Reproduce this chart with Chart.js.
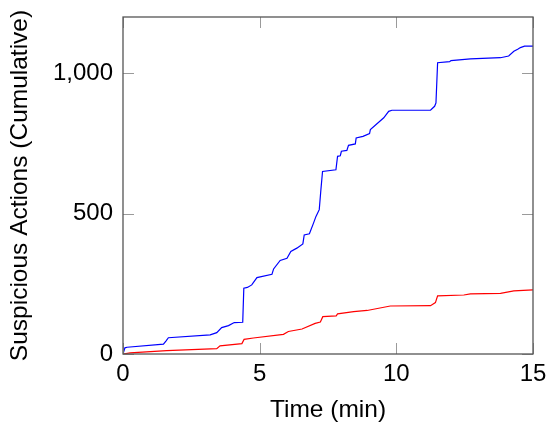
<!DOCTYPE html>
<html>
<head>
<meta charset="utf-8">
<script src="https://cdn.jsdelivr.net/npm/chart.js@4.4.0/dist/chart.umd.min.js"></script>
<style>
  html, body { margin: 0; padding: 0; background: #fff; }
  #wrap { width: 548px; height: 425px; }
</style>
</head>
<body>
<div id="wrap"><canvas id="chart" width="548" height="425"></canvas></div>
<script>
// --- Data ---
const blueTimes = [0, 0.07, 0.15, 1.48, 1.57, 1.66, 3.19, 3.43, 3.61, 3.86, 4.07, 4.38, 4.42, 4.55, 4.71, 4.90,
  5.45, 5.51, 5.75, 6.00, 6.14, 6.36, 6.58, 6.63, 6.82, 6.97, 7.06, 7.18, 7.24, 7.30, 7.79, 7.85, 7.95, 7.99,
  8.19, 8.25, 8.50, 8.53, 8.78, 9.02, 9.05, 9.54, 9.72, 9.84, 11.25, 11.40, 11.45, 11.51, 11.95, 12.00, 12.71,
  13.81, 14.11, 14.30, 14.44, 14.54, 14.69, 15.0];
const blueCounts = [0, 22, 24, 35, 46, 58, 68, 76, 94, 101, 112, 113, 234, 237, 246, 272,
  284, 303, 333, 341, 365, 377, 392, 424, 428, 466, 490, 514, 585, 650, 656, 704, 706, 722,
  725, 743, 748, 769, 775, 785, 799, 841, 864, 868, 868, 882, 894, 1037, 1041, 1045, 1051,
  1055, 1061, 1078, 1085, 1091, 1096, 1096];

const redTimes = [0, 0.26, 1.6, 3.43, 3.55, 4.35, 4.43, 4.77, 5.87, 6.05, 6.55, 7.03, 7.22, 7.31, 7.80, 7.85,
  8.44, 8.93, 9.78, 11.25, 11.43, 11.51, 12.47, 12.71, 13.81, 14.30, 15.0];
const redCounts = [0, 4, 12, 19, 29, 37, 52, 57, 70, 80, 89, 109, 114, 133, 136, 143,
  151, 155, 171, 172, 183, 207, 210, 214, 216, 225, 228];

const xTicks = [0, 5, 10, 15];
const yTicks = [0, 500, 1000];

const FONT = 'Liberation Sans';

function toPoints(xs, ys) {
  return xs.map((t, i) => ({ x: t, y: ys[i] }));
}

// pgfplots-style frame with inward ticks on all four sides
const frameTicks = {
  id: 'frameTicks',
  afterDatasetsDraw(chart) {
    const { ctx, chartArea: a, scales: { x, y } } = chart;
    const len = 11;
    ctx.save();
    ctx.strokeStyle = '#9a9a9a';
    ctx.lineWidth = 1;
    ctx.beginPath();
    x.ticks.forEach(t => {
      const px = Math.round(x.getPixelForValue(t.value)) + 0.5;
      ctx.moveTo(px, a.bottom); ctx.lineTo(px, a.bottom - len);
      ctx.moveTo(px, a.top); ctx.lineTo(px, a.top + len);
    });
    y.ticks.forEach(t => {
      const py = Math.round(y.getPixelForValue(t.value)) + 0.5;
      ctx.moveTo(a.left, py); ctx.lineTo(a.left + len, py);
      ctx.moveTo(a.right, py); ctx.lineTo(a.right - len, py);
    });
    ctx.stroke();
    ctx.strokeStyle = '#555';
    ctx.lineWidth = 1.3;
    ctx.strokeRect(a.left, a.top, a.right - a.left, a.bottom - a.top);
    ctx.restore();
  }
};

new Chart(document.getElementById('chart'), {
  type: 'line',
  data: {
    datasets: [
      {
        data: toPoints(blueTimes, blueCounts),
        borderColor: '#0000ff',
        borderWidth: 1.2,
        pointRadius: 0,
        tension: 0,
        fill: false
      },
      {
        data: toPoints(redTimes, redCounts),
        borderColor: '#ff0000',
        borderWidth: 1.2,
        pointRadius: 0,
        tension: 0,
        fill: false
      }
    ]
  },
  options: {
    responsive: false,
    devicePixelRatio: 1,
    animation: false,
    layout: { padding: { top: 17, right: 15, left: 0, bottom: 0 } },
    plugins: { legend: { display: false }, tooltip: { enabled: false } },
    scales: {
      x: {
        type: 'linear',
        min: 0,
        max: 15,
        afterBuildTicks: s => { s.ticks = xTicks.map(v => ({ value: v })); },
        afterFit: s => { s.height = 71; s.paddingLeft = 0; s.paddingRight = 0; },
        grid: { display: false, drawTicks: false },
        border: { display: false },
        ticks: { color: '#000', font: { family: FONT, size: 24 }, padding: 6, maxRotation: 0 },
        title: { display: true, text: 'Time (min)', color: '#000', font: { family: FONT, size: 24.5 }, padding: 0 }
      },
      y: {
        type: 'linear',
        min: 0,
        max: 1200,
        afterBuildTicks: s => { s.ticks = yTicks.map(v => ({ value: v })); },
        afterFit: s => { s.width = 123; s.paddingTop = 0; s.paddingBottom = 0; },
        grid: { display: false, drawTicks: false },
        border: { display: false },
        ticks: {
          color: '#000',
          font: { family: FONT, size: 24 },
          padding: 10,
          callback: v => v.toLocaleString('en-US')
        },
        title: { display: true, text: 'Suspicious Actions (Cumulative)', color: '#000', font: { family: FONT, size: 24.5 }, padding: 6 }
      }
    }
  },
  plugins: [frameTicks]
});
</script>
</body>
</html>
